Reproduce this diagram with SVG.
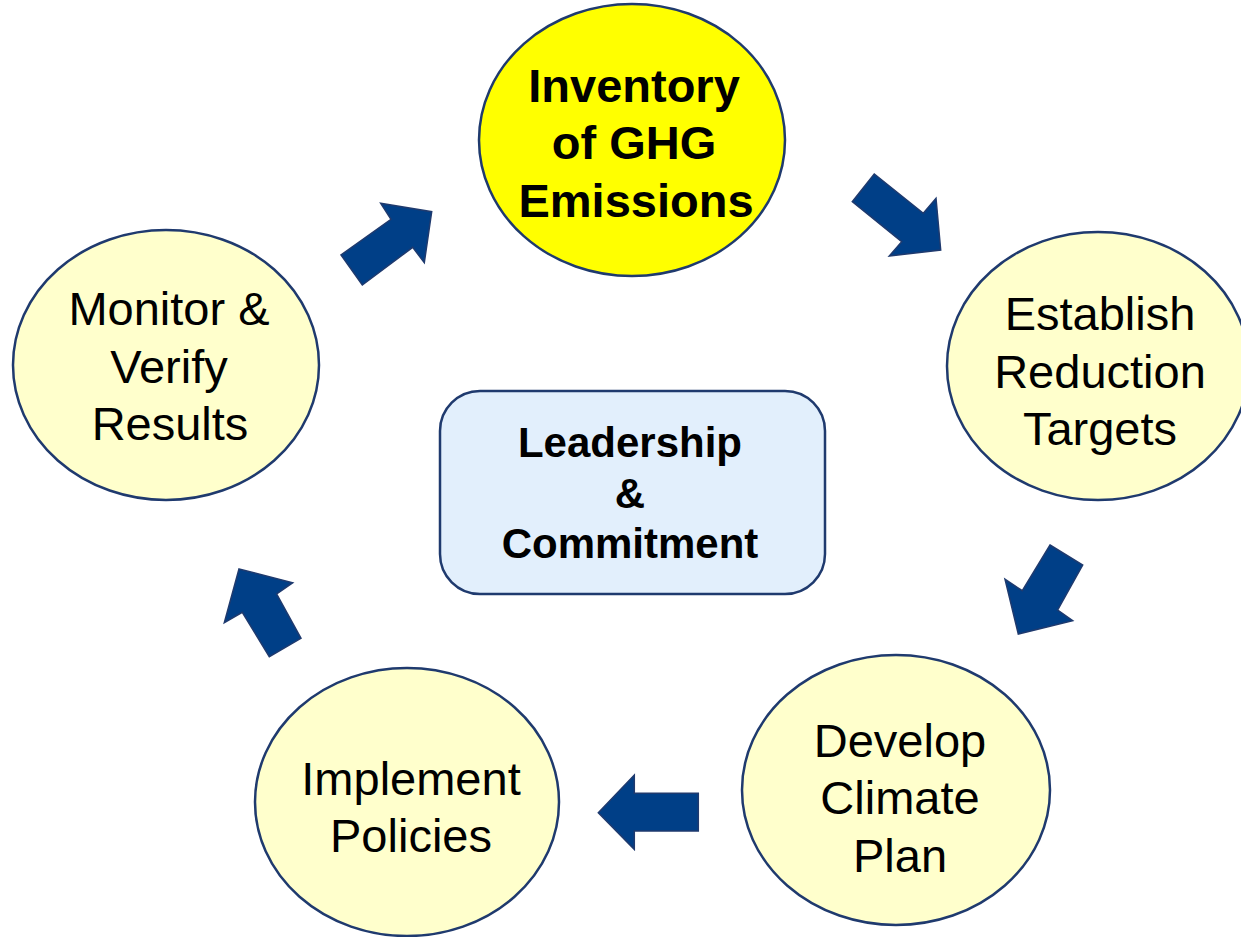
<svg xmlns="http://www.w3.org/2000/svg" width="1241" height="937" viewBox="0 0 1241 937">
<style>
.node{fill:#FFFFCC;stroke:#1F3A6E;stroke-width:2.5}
.t{font-family:"Liberation Sans",Arial,sans-serif;font-size:47px;fill:#000;text-anchor:middle}
.b{font-weight:bold}
.arrow{fill:#003F87;stroke:#1F3A6E;stroke-width:1.5;stroke-linejoin:miter}
</style>
<rect width="1241" height="937" fill="#FFFFFF"/>
<g id="connectors">
<polygon class="arrow" points="380.7,203.3 431.7,211.7 424.3,262.7 412.7,247.3 362.3,285 341,255 391,219.3"/>
<polygon class="arrow" points="874.3,174 852.3,201.7 901.7,241.7 889.3,256 940.7,250 936,198.3 923.3,213.3"/>
<polygon class="arrow" points="1050,545 1082.7,565 1057.7,610 1072.7,620.7 1018.3,634 1005,579.3 1022.3,590.7"/>
<polygon class="arrow" points="598.3,812.7 634.3,775 634.3,793.3 698.3,793.3 698.3,831 634.3,831 634.3,849.3"/>
<polygon class="arrow" points="239,569 292.7,582.7 276.7,594 301,638.3 269.3,656.7 242.3,612.3 224.3,622.7"/>
</g>
<g id="inventory">
<ellipse cx="632" cy="140" rx="153" ry="136" fill="#FFFF00" stroke="#1F3A6E" stroke-width="2.5"/>
<text class="t b" x="634" y="102">Inventory</text>
<text class="t b" x="634" y="159">of GHG</text>
<text class="t b" x="636" y="217">Emissions</text>
</g>
<g id="establish">
<ellipse class="node" cx="1098" cy="366" rx="151" ry="134"/>
<text class="t" x="1100" y="330">Establish</text>
<text class="t" x="1100" y="388">Reduction</text>
<text class="t" x="1100" y="445">Targets</text>
</g>
<g id="develop">
<ellipse class="node" cx="896" cy="790" rx="154" ry="135"/>
<text class="t" x="900" y="757">Develop</text>
<text class="t" x="900" y="814">Climate</text>
<text class="t" x="900" y="872">Plan</text>
</g>
<g id="implement">
<ellipse class="node" cx="407" cy="802" rx="152" ry="134"/>
<text class="t" x="411" y="795">Implement</text>
<text class="t" x="411" y="852">Policies</text>
</g>
<g id="monitor">
<ellipse class="node" cx="166" cy="365" rx="153" ry="135"/>
<text class="t" x="169" y="325">Monitor &amp;</text>
<text class="t" x="169" y="383">Verify</text>
<text class="t" x="170" y="440">Results</text>
</g>
<g id="leadership">
<rect x="440" y="391" width="385" height="203" rx="40" ry="40" fill="#E2EFFC" stroke="#1F3A6E" stroke-width="2.5"/>
<text class="t b" x="630" y="457" style="font-size:42px">Leadership</text>
<text class="t b" x="630" y="508" style="font-size:42px">&amp;</text>
<text class="t b" x="630" y="558" style="font-size:42px">Commitment</text>
</g>
</svg>
